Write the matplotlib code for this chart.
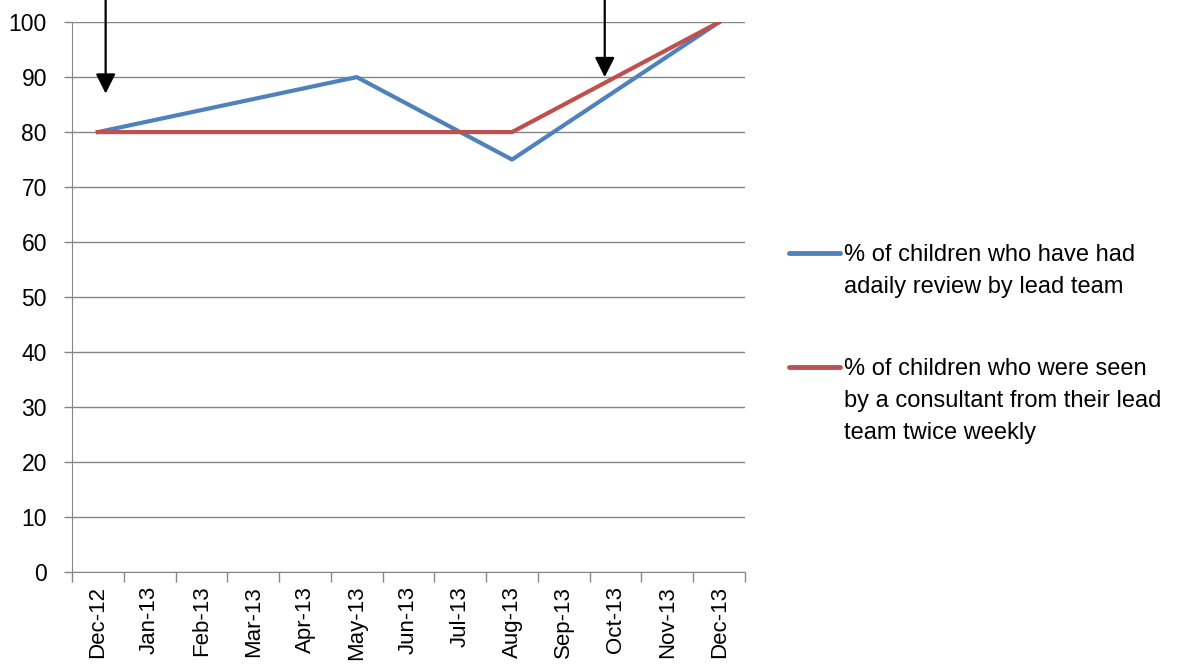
import matplotlib.pyplot as plt
from matplotlib.lines import Line2D

months = ['Dec-12', 'Jan-13', 'Feb-13', 'Mar-13', 'Apr-13', 'May-13', 'Jun-13',
          'Jul-13', 'Aug-13', 'Sep-13', 'Oct-13', 'Nov-13', 'Dec-13']

# audit results (only the months that were measured)
review_months = ['Dec-12', 'May-13', 'Aug-13', 'Dec-13']
review_pct = [80, 90, 75, 100]
consultant_months = ['Dec-12', 'Aug-13', 'Dec-13']
consultant_pct = [80, 80, 100]

review_label = '% of children who have had\nadaily review by lead team'
consultant_label = '% of children who were seen\nby a consultant from their lead\nteam twice weekly'

plt.rcParams['font.family'] = ['Liberation Sans', 'DejaVu Sans']

fig = plt.figure(figsize=(11.86, 6.7), dpi=100)
ax = fig.add_axes([0.0607, 0.1463, 0.5675, 0.8207])

x_review = [months.index(m) for m in review_months]
x_consult = [months.index(m) for m in consultant_months]
ax.plot(x_review, review_pct, color='#4F81BD', lw=3, zorder=3)
ax.plot(x_consult, consultant_pct, color='#C0504D', lw=3, zorder=4)

ax.set_xlim(-0.5, len(months) - 0.5)
ax.set_ylim(0, 100)
ax.set_yticks(range(0, 101, 10))
ax.yaxis.grid(True, color='#868686', lw=1)
ax.set_axisbelow(True)

# category labels centred, tick marks between categories
ax.set_xticks(range(len(months)))
ax.set_xticklabels(months, rotation=90, fontsize=16)
ax.set_xticks([i - 0.5 for i in range(len(months) + 1)], minor=True)
ax.tick_params(axis='x', which='major', length=0, pad=10)
ax.tick_params(axis='x', which='minor', length=7, color='#868686', width=1)
ax.tick_params(axis='y', length=6, color='#868686', width=1, labelsize=16.5, pad=12)

for side in ['top', 'right']:
    ax.spines[side].set_visible(False)
for side in ['left', 'bottom']:
    ax.spines[side].set_color('#868686')

# arrows marking the two interventions
arrow = dict(arrowstyle='-|>', color='black', lw=1.6, mutation_scale=30, shrinkA=0, shrinkB=0)
ax.annotate('', xy=(0.15, 87), xytext=(0.15, 104), arrowprops=arrow, annotation_clip=False)
ax.annotate('', xy=(9.79, 90), xytext=(9.79, 104), arrowprops=arrow, annotation_clip=False)

# legend to the right of the plot
entries = [(review_label, '#4F81BD', 0.622), (consultant_label, '#C0504D', 0.452)]
for label, color, y in entries:
    fig.add_artist(Line2D([0.665, 0.708], [y, y], color=color, lw=3.5,
                          solid_capstyle='round', transform=fig.transFigure))
    fig.text(0.712, y + 0.014, label, fontsize=17, va='top', ha='left', linespacing=1.58)

fig.savefig('out.png', dpi=100, facecolor='white')
